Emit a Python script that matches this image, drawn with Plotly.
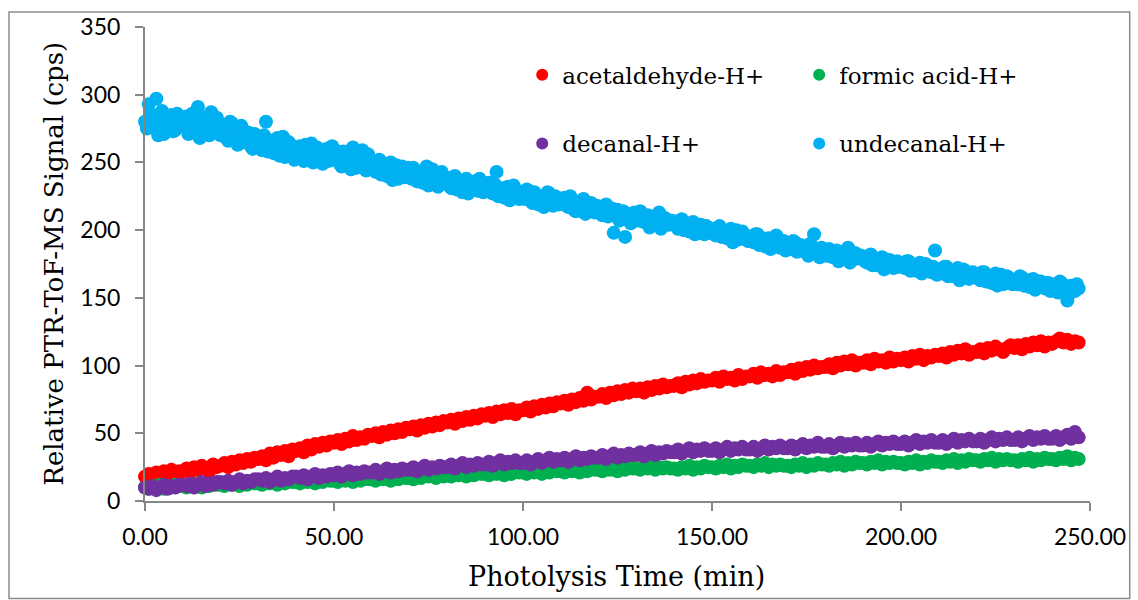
import plotly.graph_objects as go

# ---------------- data ----------------
time_min = list(range(0, 248))                 # photolysis time, minutes (248 points)
time_half = [t + 0.5 for t in range(0, 247)]   # intermediate undecanal readings (247 points)

acetaldehyde = [
    18, 20, 17, 21, 19, 22, 20, 23, 21, 22,
    22, 24, 21, 25, 23, 26, 24, 22, 27, 25,
    26, 28, 25, 29, 27, 30, 28, 31, 29, 32,
    31, 33, 30, 35, 32, 36, 34, 37, 33, 38,
    37, 39, 36, 41, 38, 42, 40, 43, 41, 44,
    43, 45, 42, 46, 44, 48, 45, 47, 46, 49,
    48, 50, 47, 51, 49, 52, 50, 53, 51, 54,
    53, 55, 52, 56, 54, 57, 55, 58, 56, 59,
    58, 60, 57, 61, 59, 62, 60, 63, 61, 64,
    63, 65, 62, 66, 64, 67, 65, 68, 64, 67,
    67, 69, 66, 70, 68, 71, 69, 72, 70, 73,
    72, 74, 71, 75, 73, 76, 74, 80, 75, 77,
    77, 79, 76, 80, 78, 81, 79, 82, 80, 83,
    81, 83, 80, 84, 82, 85, 83, 86, 84, 85,
    85, 87, 84, 88, 86, 89, 87, 90, 88, 89,
    89, 91, 88, 92, 90, 91, 89, 93, 90, 92,
    92, 94, 91, 95, 93, 94, 92, 96, 93, 95,
    95, 97, 94, 98, 96, 99, 97, 100, 98, 99,
    99, 101, 98, 102, 100, 103, 101, 104, 100, 102,
    102, 104, 101, 105, 103, 104, 102, 106, 103, 105,
    104, 106, 103, 107, 105, 108, 104, 107, 106, 108,
    107, 109, 106, 110, 108, 111, 109, 112, 108, 110,
    110, 112, 109, 113, 111, 114, 112, 110, 113, 115,
    113, 115, 112, 116, 114, 117, 115, 118, 114, 117,
    116, 118, 120, 117, 119, 116, 118, 117,
]

formic_acid = [
    10, 9, 11, 10, 12, 9, 11, 10, 12, 11,
    11, 10, 12, 11, 13, 10, 12, 11, 13, 12,
    12, 11, 13, 12, 14, 11, 13, 12, 14, 13,
    13, 12, 14, 13, 15, 12, 14, 13, 15, 14,
    14, 13, 15, 14, 16, 13, 15, 14, 16, 15,
    15, 14, 16, 15, 17, 14, 16, 15, 17, 16,
    16, 15, 17, 16, 18, 15, 17, 16, 18, 17,
    17, 16, 18, 17, 19, 18, 20, 17, 19, 18,
    19, 18, 20, 19, 21, 18, 20, 19, 21, 20,
    20, 19, 21, 20, 22, 19, 21, 20, 22, 21,
    21, 20, 22, 21, 23, 20, 22, 21, 23, 22,
    22, 21, 23, 22, 24, 21, 23, 22, 24, 23,
    23, 22, 24, 23, 25, 22, 24, 23, 25, 24,
    24, 23, 25, 24, 26, 23, 25, 24, 25, 24,
    24, 23, 25, 24, 26, 23, 25, 24, 26, 25,
    25, 24, 26, 25, 27, 24, 26, 25, 27, 26,
    26, 25, 27, 26, 28, 25, 27, 26, 27, 26,
    26, 25, 27, 26, 28, 25, 27, 26, 28, 27,
    27, 26, 28, 27, 29, 26, 28, 27, 29, 28,
    28, 27, 29, 28, 30, 27, 29, 28, 29, 28,
    28, 27, 29, 28, 30, 27, 29, 28, 30, 29,
    29, 28, 30, 29, 31, 28, 30, 29, 31, 30,
    30, 29, 31, 30, 32, 29, 31, 30, 31, 30,
    30, 29, 31, 30, 32, 29, 31, 30, 32, 31,
    31, 30, 32, 31, 33, 30, 32, 31,
]

decanal = [
    10, 9, 11, 8, 10, 12, 9, 11, 10, 12,
    12, 11, 13, 10, 12, 14, 11, 13, 12, 14,
    14, 13, 15, 12, 14, 16, 13, 15, 14, 16,
    16, 15, 17, 14, 16, 18, 15, 17, 16, 18,
    18, 17, 19, 16, 18, 20, 17, 19, 18, 20,
    19, 21, 18, 20, 22, 19, 21, 20, 22, 21,
    21, 23, 20, 22, 24, 21, 23, 22, 24, 23,
    23, 25, 22, 24, 26, 23, 25, 24, 26, 25,
    25, 27, 24, 26, 28, 25, 27, 26, 28, 27,
    27, 29, 26, 28, 30, 27, 29, 28, 30, 28,
    28, 30, 27, 29, 31, 28, 30, 32, 29, 31,
    30, 32, 29, 31, 33, 30, 32, 31, 33, 32,
    32, 34, 31, 33, 35, 32, 34, 33, 35, 34,
    34, 36, 33, 35, 37, 34, 36, 35, 37, 36,
    36, 38, 35, 37, 39, 36, 38, 37, 39, 37,
    37, 39, 36, 38, 40, 37, 39, 38, 40, 38,
    38, 40, 37, 39, 41, 38, 40, 39, 41, 39,
    39, 41, 38, 40, 42, 39, 41, 40, 43, 40,
    40, 42, 39, 41, 43, 40, 42, 41, 43, 41,
    41, 43, 40, 42, 44, 41, 43, 42, 44, 42,
    42, 44, 41, 43, 45, 42, 44, 43, 45, 43,
    43, 45, 42, 44, 46, 43, 45, 44, 46, 44,
    44, 46, 43, 45, 47, 44, 46, 45, 47, 45,
    45, 47, 44, 46, 48, 45, 47, 46, 48, 46,
    46, 48, 45, 47, 49, 46, 51, 47,
]

undecanal = [
    280, 293, 276, 297, 283, 271, 279, 285, 274, 282,
    277, 284, 272, 280, 291, 275, 281, 270, 278, 283,
    270, 276, 266, 279, 272, 264, 274, 268, 262, 271,
    266, 259, 280, 263, 257, 268, 261, 254, 265, 260,
    256, 262, 251, 259, 264, 253, 257, 249, 260, 255,
    252, 258, 247, 255, 250, 261, 246, 253, 249, 256,
    248, 243, 252, 246, 240, 250, 244, 238, 247, 242,
    241, 246, 236, 243, 239, 233, 245, 238, 242, 235,
    236, 231, 240, 234, 228, 238, 232, 236, 229, 234,
    230, 235, 227, 243, 229, 224, 232, 226, 230, 223,
    226, 230, 222, 228, 219, 225, 221, 227, 218, 224,
    220, 224, 217, 222, 214, 219, 223, 216, 220, 213,
    216, 211, 219, 213, 198, 215, 209, 195, 212, 207,
    210, 214, 206, 211, 204, 209, 213, 203, 208, 205,
    205, 201, 208, 203, 199, 206, 200, 204, 197, 202,
    200, 196, 203, 198, 194, 201, 197, 193, 199, 195,
    195, 191, 197, 192, 188, 194, 190, 196, 187, 192,
    189, 186, 191, 185, 188, 183, 190, 197, 184, 187,
    183, 186, 180, 185, 179, 182, 187, 178, 183, 180,
    179, 176, 182, 177, 174, 180, 175, 178, 172, 177,
    175, 172, 177, 173, 170, 176, 171, 174, 169, 185,
    171, 168, 173, 169, 166, 172, 167, 170, 164, 169,
    167, 163, 169, 165, 161, 168, 164, 160, 166, 162,
    163, 160, 165, 161, 158, 164, 159, 162, 157, 161,
    160, 157, 162, 158, 148, 159, 155, 157,
]

undecanal_half = [
    275, 286, 281, 270, 288, 277, 283, 273, 286, 279,
    282, 271, 286, 276, 268, 283, 274, 287, 272, 279,
    275, 268, 280, 270, 263, 277, 266, 272, 260, 268,
    262, 270, 258, 266, 261, 255, 269, 259, 263, 252,
    260, 253, 263, 256, 250, 261, 254, 258, 251, 262,
    255, 249, 258, 251, 245, 256, 250, 259, 244, 251,
    245, 251, 241, 249, 244, 237, 248, 243, 239, 246,
    238, 244, 240, 235, 247, 237, 241, 232, 243, 239,
    233, 239, 230, 236, 232, 227, 235, 230, 238, 228,
    232, 228, 234, 225, 231, 227, 222, 233, 228, 225,
    223, 229, 220, 226, 223, 217, 228, 222, 225, 219,
    222, 218, 225, 215, 221, 217, 212, 220, 215, 218,
    213, 218, 210, 216, 212, 207, 214, 211, 205, 213,
    207, 212, 208, 202, 210, 206, 201, 209, 204, 207,
    203, 207, 200, 205, 202, 197, 204, 199, 203, 198,
    198, 202, 195, 199, 196, 191, 200, 195, 197, 192,
    193, 197, 189, 194, 191, 186, 193, 188, 191, 185,
    188, 192, 184, 189, 186, 181, 188, 185, 180, 186,
    181, 185, 182, 177, 184, 180, 176, 183, 179, 181,
    177, 181, 174, 179, 176, 171, 178, 174, 176, 173,
    173, 177, 170, 174, 172, 168, 175, 170, 173, 167,
    169, 173, 166, 170, 168, 163, 171, 166, 168, 165,
    165, 169, 162, 166, 164, 159, 167, 162, 165, 160,
    162, 166, 159, 163, 160, 156, 162, 158, 161, 155,
    159, 154, 161, 156, 153, 158, 160,
]

x_ticks = [0, 50, 100, 150, 200, 250]
y_ticks = [0, 50, 100, 150, 200, 250, 300, 350]

# ---------------- styling ----------------
SERIF = "DejaVu Serif"
SANS = "Lato"
AXIS_COLOR = "#868686"
MSIZE = 14

series = [
    ("acetaldehyde-H+", time_min, acetaldehyde, "#FF0000", "legend"),
    ("formic acid-H+", time_min, formic_acid, "#00B050", "legend2"),
    ("decanal-H+", time_min, decanal, "#7030A0", "legend3"),
    ("undecanal-H+", time_min + time_half, undecanal + undecanal_half, "#00B0F0", "legend4"),
]

fig = go.Figure()
for name, xs, ys, color, lg in series:
    fig.add_trace(go.Scatter(
        x=xs, y=ys, mode="markers", name=name,
        marker=dict(color=color, size=MSIZE, line=dict(width=0)),
        cliponaxis=False, legend=lg,
    ))

W, H = 1138, 600
L, R, T, B = 145, 41, 25, 99
pw, ph = W - L - R, H - T - B


def px(xp):
    return (xp - L) / pw


def py(yp):
    return (H - B - yp) / ph


legend_common = dict(
    font=dict(family=SERIF, size=23, color="#000000"),
    bgcolor="rgba(0,0,0,0)", xanchor="left", yanchor="middle",
    itemwidth=30, tracegroupgap=0, itemsizing="constant",
)
col1, col2 = 525, 804
row1, row2 = 73, 142

fig.update_layout(
    width=W, height=H,
    margin=dict(l=L, r=R, t=T, b=B),
    paper_bgcolor="white", plot_bgcolor="white",
    showlegend=True,
    legend=dict(x=px(col1), y=py(row1), **legend_common),
    legend2=dict(x=px(col2), y=py(row1), **legend_common),
    legend3=dict(x=px(col1), y=py(row2), **legend_common),
    legend4=dict(x=px(col2), y=py(row2), **legend_common),
    xaxis=dict(
        range=[0, 250], tickvals=x_ticks,
        ticktext=[f"{v:.2f}" for v in x_ticks],
        showgrid=False, zeroline=False,
        showline=True, linecolor=AXIS_COLOR, linewidth=2,
        ticks="outside", ticklen=8, tickwidth=2, tickcolor=AXIS_COLOR,
        tickfont=dict(family=SANS, size=23, color="#000000"),
        ticklabelstandoff=6,
    ),
    yaxis=dict(
        range=[0, 350], tickvals=y_ticks,
        showgrid=False, zeroline=False,
        showline=True, linecolor=AXIS_COLOR, linewidth=2,
        ticks="outside", ticklen=8, tickwidth=2, tickcolor=AXIS_COLOR,
        tickfont=dict(family=SANS, size=23, color="#000000"),
        ticklabelstandoff=10,
    ),
    annotations=[
        dict(text="Relative PTR-ToF-MS Signal (cps)", xref="paper", yref="paper",
             x=px(53), y=0.5, textangle=-90, showarrow=False,
             xanchor="center", yanchor="middle",
             font=dict(family=SERIF, size=26, color="#000000")),
        dict(text="Photolysis Time (min)", xref="paper", yref="paper",
             x=px(620), y=py(577), showarrow=False,
             xanchor="center", yanchor="middle",
             font=dict(family=SERIF, size=27, color="#000000")),
    ],
    shapes=[
        dict(type="rect", xref="paper", yref="paper",
             x0=px(8), x1=px(1137), y0=py(599), y1=py(10),
             line=dict(color="#8c8c8c", width=1.5), layer="below"),
    ],
)

fig.write_html("out.html")
